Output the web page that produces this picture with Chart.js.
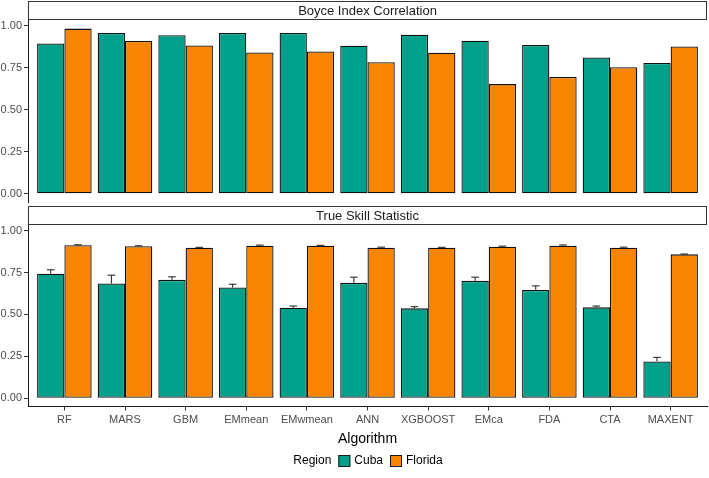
<!DOCTYPE html>
<html>
<head>
<meta charset="utf-8">
<script src="https://cdn.jsdelivr.net/npm/chart.js@4.4.0/dist/chart.umd.min.js"></script>
<style>
  body { margin: 0; background: #fff; }
  #wrap { position: relative; width: 709px; height: 478px; }
  canvas { position: absolute; left: 0; }
</style>
</head>
<body>
<div id="wrap">
  <canvas id="boyceChart" width="709" height="204" style="top:0"></canvas>
  <canvas id="tssChart" width="709" height="274" style="top:204px"></canvas>
</div>
<script>
const algorithms = ["RF", "MARS", "GBM", "EMmean", "EMwmean", "ANN", "XGBOOST", "EMca", "FDA", "CTA", "MAXENT"];
const regions = ["Cuba", "Florida"];
const boyceCuba = [0.894, 0.956, 0.942, 0.956, 0.956, 0.880, 0.946, 0.910, 0.884, 0.810, 0.778];
const boyceFlorida = [0.982, 0.908, 0.882, 0.840, 0.846, 0.782, 0.838, 0.652, 0.694, 0.752, 0.876];
const tssCuba = [0.742, 0.684, 0.706, 0.660, 0.540, 0.688, 0.536, 0.700, 0.646, 0.542, 0.220];
const tssCubaSd = [0.024, 0.050, 0.018, 0.020, 0.010, 0.034, 0.010, 0.022, 0.024, 0.008, 0.024];
const tssFlorida = [0.912, 0.906, 0.898, 0.910, 0.910, 0.898, 0.898, 0.904, 0.910, 0.898, 0.858];
const tssFloridaSd = [0.003, 0.003, 0.002, 0.003, 0.002, 0.003, 0.002, 0.003, 0.004, 0.003, 0.002];
const yTicks = [0, 0.25, 0.5, 0.75, 1];

const colors = ["#00A08A", "#F98400"];
const font = "'Liberation Sans', Arial, sans-serif";

// facet strip above the panel (ggplot style)
const stripPlugin = {
    id: "strip",
    beforeDraw(chart, args, opts) {
        const { ctx, chartArea } = chart;
        const top = chartArea.top - 19;
        ctx.save();
        ctx.fillStyle = "#fff";
        ctx.strokeStyle = "#333";
        ctx.lineWidth = 1;
        ctx.fillRect(chartArea.left, top, chartArea.right - chartArea.left, 18);
        ctx.strokeRect(chartArea.left + 0.5, top + 0.5, chartArea.right - chartArea.left - 1, 18);
        ctx.fillStyle = "#1a1a1a";
        ctx.font = "13px " + font;
        ctx.textAlign = "center";
        ctx.textBaseline = "middle";
        ctx.fillText(opts.text, (chartArea.left + chartArea.right) / 2, top + 10);
        ctx.restore();
    },
};

// upper whiskers of the error bars
const errorBarPlugin = {
    id: "errorBars",
    afterDatasetsDraw(chart, args, opts) {
        if (!opts.errors) return;
        const { ctx } = chart;
        const yScale = chart.scales.y;
        ctx.save();
        ctx.strokeStyle = "#1a1a1a";
        ctx.lineWidth = 1;
        chart.data.datasets.forEach((ds, i) => {
            const errs = opts.errors[i];
            chart.getDatasetMeta(i).data.forEach((bar, j) => {
                const yEnd = yScale.getPixelForValue(ds.data[j].y + errs[j]);
                const half = bar.width * 0.14;
                ctx.beginPath();
                ctx.moveTo(bar.x, bar.y);
                ctx.lineTo(bar.x, yEnd);
                ctx.moveTo(bar.x - half, yEnd);
                ctx.lineTo(bar.x + half, yEnd);
                ctx.stroke();
            });
        });
        ctx.restore();
    },
};

// "Region [] Cuba [] Florida" legend under the axis title
const regionLegend = {
    id: "regionLegend",
    afterDraw(chart, args, opts) {
        if (!opts.show) return;
        const { ctx } = chart;
        ctx.save();
        ctx.font = "12px " + font;
        ctx.textBaseline = "middle";
        const box = 12, gap = 4, sep = 7;
        let total = ctx.measureText("Region").width + sep;
        regions.forEach((r) => { total += box + gap + ctx.measureText(r).width + sep; });
        total -= sep;
        let x = 368 - total / 2;
        const y = opts.y;
        ctx.fillStyle = "#000";
        ctx.fillText("Region", x, y);
        x += ctx.measureText("Region").width + sep;
        regions.forEach((r, i) => {
            ctx.fillStyle = colors[i];
            ctx.fillRect(x, y - box / 2, box, box);
            ctx.strokeStyle = "#1a1a1a";
            ctx.lineWidth = 1;
            ctx.strokeRect(x + 0.5, y - box / 2 + 0.5, box - 1, box - 1);
            x += box + gap;
            ctx.fillStyle = "#000";
            ctx.fillText(r, x, y);
            x += ctx.measureText(r).width + sep;
        });
        ctx.restore();
    },
};

function makeDatasets(cuba, florida) {
    return [cuba, florida].map((vals, i) => ({
        label: regions[i],
        data: vals.map((v, j) => ({ x: j + 1, y: v })),
        backgroundColor: colors[i],
        borderColor: "#111",
        borderWidth: 1.3,
        borderSkipped: false,
        categoryPercentage: 0.9,
        barPercentage: 1.0,
    }));
}

function makeOptions(stripText, showX, errors) {
    return {
        responsive: false,
        animation: false,
        layout: { padding: showX ? { left: 0, right: 2, top: 21, bottom: 27.5 } : { left: 0, right: 2, top: 20, bottom: 2 } },
        scales: {
            x: {
                type: "linear",
                min: 0.4,
                max: 11.6,
                offset: false,
                display: showX,
                afterBuildTicks: (s) => { s.ticks = algorithms.map((a, i) => ({ value: i + 1 })); },
                afterFit: (s) => { s.height = showX ? 44 : 0; },
                grid: { offset: false, drawOnChartArea: false, tickLength: 4, color: "#333" },
                border: { display: true, color: "#1a1a1a", width: 1 },
                ticks: {
                    color: "#4d4d4d",
                    font: { family: font, size: 11 },
                    padding: 3,
                    maxRotation: 0,
                    autoSkip: false,
                    callback: (v) => algorithms[v - 1],
                },
                title: {
                    display: true,
                    text: "Algorithm",
                    color: "#000",
                    font: { family: font, size: 14 },
                    padding: { top: 0, bottom: 3 },
                },
            },
            y: {
                min: -0.049,
                max: 1.033,
                afterBuildTicks: (s) => { s.ticks = yTicks.map((v) => ({ value: v })); },
                afterFit: (s) => { s.width = 28; s.paddingTop = 0; s.paddingBottom = 0; },
                grid: { drawOnChartArea: false, tickLength: 4, color: "#333" },
                border: { display: true, color: "#1a1a1a", width: 1 },
                ticks: {
                    color: "#4d4d4d",
                    font: { family: font, size: 11 },
                    padding: 2,
                    callback: (v) => v.toFixed(2),
                },
            },
        },
        plugins: {
            legend: { display: false },
            tooltip: { enabled: false },
            strip: { text: stripText },
            errorBars: { errors: errors },
            regionLegend: { show: showX, y: 257 },
        },
    };
}

new Chart(document.getElementById("boyceChart"), {
    type: "bar",
    data: { datasets: makeDatasets(boyceCuba, boyceFlorida) },
    options: makeOptions("Boyce Index Correlation", false, null),
    plugins: [stripPlugin, errorBarPlugin, regionLegend],
});

new Chart(document.getElementById("tssChart"), {
    type: "bar",
    data: { datasets: makeDatasets(tssCuba, tssFlorida) },
    options: makeOptions("True Skill Statistic", true, [tssCubaSd, tssFloridaSd]),
    plugins: [stripPlugin, errorBarPlugin, regionLegend],
});
</script>
</body>
</html>
